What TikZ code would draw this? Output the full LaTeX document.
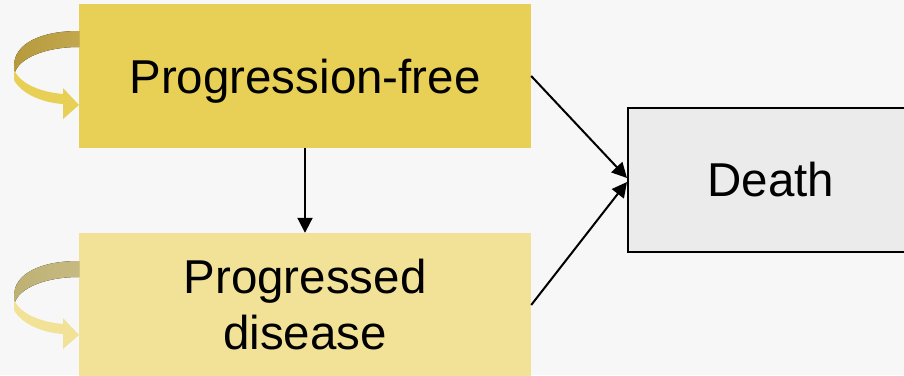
\documentclass[tikz,border=0pt]{standalone}
\usepackage{fontspec}
\setmainfont{Liberation Sans}
\usetikzlibrary{arrows.meta,calc}
\definecolor{bg}{RGB}{247,247,247}
\definecolor{pfFill}{RGB}{232,207,85}
\definecolor{pdFill}{RGB}{242,226,152}
\definecolor{pfDarkL}{RGB}{182,154,62}
\definecolor{pfDarkR}{RGB}{194,167,76}
\definecolor{pdDarkL}{RGB}{190,177,116}
\definecolor{pdDarkR}{RGB}{198,186,128}
\definecolor{deathFill}{RGB}{235,235,235}
\newcommand{\loopArrow}[4]{% #1 y offset, #2 dark left, #3 dark right, #4 light
\begin{scope}[shift={(0,#1)}]
\fill[left color=#2, right color=#3] (79,31) .. controls (40,31) and (14,44) .. (14,66) -- (14,70) -- (15,72) .. controls (20,58) and (45,47) .. (79,47) -- cycle;
\fill[#4] (14,70) -- (14,80) .. controls (22,95) and (45,103) .. (63,104) -- (63,119) -- (79,105) -- (63,88) -- (63,94) .. controls (40,92) and (22,84) .. (15,72) -- cycle;
\end{scope}}
\begin{document}
\begin{tikzpicture}[x=1pt,y=-1pt,
  statebox/.style={rectangle, minimum width=452pt, minimum height=144pt, inner sep=0pt,
    font=\fontsize{47.5pt}{56pt}\selectfont, align=center},
  conn/.style={line width=2pt, -{Triangle[length=15pt,width=15pt]}},
 ]
\useasboundingbox (0,0) rectangle (904,375);
\clip (0,0) rectangle (904,375);
\fill[bg] (0,0) rectangle (904,375);
\node[statebox, fill=pfFill, text depth=0pt] (pf) at (305,76) {Progression-free};
\node[statebox, fill=pdFill] (pd) at (305,305) {Progressed\\disease};
\node[rectangle, draw=black, line width=2pt, fill=deathFill, minimum width=286pt,
  minimum height=144pt, inner sep=0pt, font=\fontsize{47.5pt}{56pt}\selectfont] (death) at (771,180) {Death};
\loopArrow{0}{pfDarkL}{pfDarkR}{pfFill}
\loopArrow{230}{pdDarkL}{pdDarkR}{pdFill}
\draw[conn] (pf.south) -- (pd.north);
\draw[conn] (pf.east) -- ($(death.west)+(0,-2)$);
\draw[conn] (pd.east) -- ($(death.west)+(0,2)$);
\end{tikzpicture}
\end{document}
